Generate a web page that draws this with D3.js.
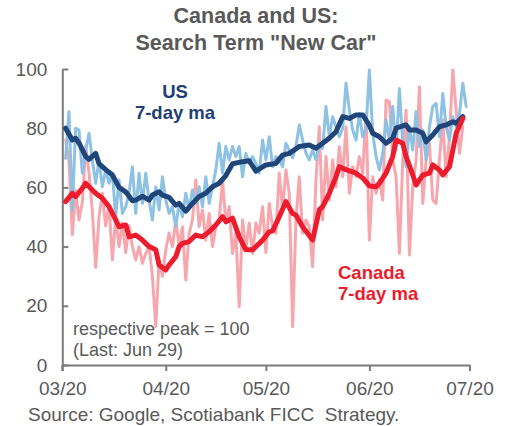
<!DOCTYPE html>
<html><head><meta charset="utf-8">
<script src="https://cdn.jsdelivr.net/npm/d3@7"></script>
<style>
body{margin:0;background:#fff}
svg{display:block}
text{font-family:"Liberation Sans",Arial,sans-serif}
</style>
</head><body>
<svg id="c" width="512" height="426"></svg>
<script>
// ---------- data ----------
const titleLines = ["Canada and US:", 'Search Term "New Car"'];
const dailyStart = "2020-03-02";
const usDaily = [69.8,85.6,52.4,80,79.4,64.8,72.6,78.3,69.3,61.4,69.3,60.2,65.9,61.4,64.8,50.1,62.5,51.2,53.5,58,
 67,51.2,64.8,54.6,64.8,55.7,49,60.2,52.4,63.6,55.7,51.2,53.5,46.7,54.6,50.1,58,52.4,59.1,54.6,
 60.2,53.5,63.6,54.6,60.2,66,74.9,64.8,73.8,69.3,73.8,70.4,73.8,63.6,71.5,68.1,70.4,68.1,64.8,76,
 69.3,77.1,67,70.4,69.3,67,74.9,72.6,70,73.8,81.1,76,71.6,69.3,72.6,69.3,74.9,73.2,87.3,77.1,
 83.9,80.5,77.1,80,95.2,86.1,79.4,76,85,77.1,80,99.7,78.3,70.4,65.9,71.5,82.8,76,87.3,72.6,
 93.4,74.9,67,80.5,72.6,85.6,73.8,79.4,69.3,80.5,87.3,88.4,77.1,91.7,80.5,76,83.9,80.5,85,95.2,87.3];
const caDaily = [76,69,44,59,49,55,74,65,52,33,50,58,47,54,35.5,50,40,48,38,47,
 40,35.5,40,34.4,37.7,40,30,13,35.5,30,39,44.6,40,49,40,46.7,28.7,44.5,49,62.5,
 46.7,52.4,42.2,51.2,40,46.7,49,62.5,48,53.5,37.7,44.5,19.7,49,38.9,48,37.7,48,44.5,53.5,
 38,54.6,46.7,44.5,64.8,52.4,65.9,58,12.9,49,63.6,44.5,49,46.7,33.2,62.5,80.5,49,70.4,55.7,
 69.3,60.2,73.8,63.6,80.5,58,67,63.6,70.4,64.8,85,42.2,63.6,58,62.5,55.7,89.5,89,69.3,63.6,
 37.7,69.3,86.1,37.2,60.2,69.3,94,54.6,69.3,74.9,55.7,54.6,69.3,82.8,63.6,77.1,99.7,86.1,71.5,80.5];
const usMaDates = ["03-02","03-04","03-05","03-06","03-08","03-09","03-11","03-12","03-14","03-16","03-18","03-20",
 "03-22","03-23","03-25","03-27","03-28","03-30","03-31","04-02","04-04","04-05","04-07","04-09","04-11","04-13",
 "04-15","04-17","04-19","04-21","04-24","04-26","04-28","05-01","05-04","05-06","05-08","05-11","05-14","05-16",
 "05-18","05-20","05-22","05-24","05-26","05-28","05-30","06-01","06-02","06-04","06-06","06-08","06-09","06-12",
 "06-13","06-15","06-17","06-18","06-20","06-22","06-24","06-26","06-27","06-29"];
const usMa = [80,76,76.6,75,70.5,69.5,71.5,68,66,64.2,60,58.5,
 55.5,55.7,57,55.7,57.4,58.5,57.4,56.6,54,54.6,52,54.6,56.9,58,
 60.2,61.4,64,68,68.7,69,65.5,67.6,68.1,70.9,71.5,73.8,74.3,73.2,
 74.9,76.6,78.8,83.9,83.3,84.5,84.5,81,78.3,77.1,74.9,76.6,80,81.1,
 79.4,79.4,78.3,75.4,77.7,80.5,81.1,82.2,81.7,83.9];
const caMaDates = ["03-02","03-04","03-05","03-07","03-08","03-10","03-11","03-13","03-15","03-17","03-18","03-20",
 "03-21","03-23","03-25","03-27","03-29","03-30","04-01","04-02","04-04","04-05","04-06","04-08","04-10","04-12",
 "04-14","04-16","04-18","04-19","04-21","04-23","04-25","04-27","04-30","05-02","05-03","05-05","05-07","05-09",
 "05-10","05-12","05-15","05-17","05-18","05-20","05-22","05-23","05-25","05-28","05-30","06-01","06-03","06-04",
 "06-06","06-08","06-09","06-11","06-12","06-14","06-15","06-17","06-19","06-20","06-22","06-23","06-25","06-26",
 "06-27","06-29"];
const caMa = [55.2,58,56.9,59.7,61.4,59.1,58,56.3,53.5,49,46.7,47.3,
 43.3,43.9,42.2,40,38.9,33.8,32.1,33.8,36.6,40,41.1,41.7,43.9,43.3,
 45,47.3,50.1,48.4,49.6,43.3,38.9,38.9,42.2,45,45.3,50.1,55.2,51.2,
 50.7,46.7,42.2,52.4,53.5,58,63.6,67,66,64.8,63.2,60.5,60.2,61.4,
 64.8,70.4,76,74.9,70.4,64.2,60.8,64.2,64.8,67.6,65.9,64.2,67,72.6,
 78.3,83.3];
const xTickDates = ["2020-03-01","2020-04-01","2020-05-01","2020-06-01","2020-07-01"];
const yTicks = [0,20,40,60,80,100];
const usLabel = ["US","7-day ma"];
const caLabel = ["Canada","7-day ma"];
const noteLines = ["respective peak = 100","(Last: Jun 29)"];
const sourceText = "Source: Google, Scotiabank FICC  Strategy.";

// ---------- build ----------
const parse = d3.timeParse("%Y-%m-%d");
const start = parse(dailyStart);
const usD = usDaily.map((v,i)=>({d:d3.timeDay.offset(start,i),v}));
const caD = caDaily.map((v,i)=>({d:d3.timeDay.offset(start,i),v}));
const usM = usMaDates.map((s,i)=>({d:parse("2020-"+s),v:usMa[i]}));
const caM = caMaDates.map((s,i)=>({d:parse("2020-"+s),v:caMa[i]}));

const svg = d3.select("#c");
svg.append("rect").attr("width",512).attr("height",426).attr("fill","#fff");

const x = d3.scaleTime().domain([parse("2020-03-01"),parse("2020-07-01")]).range([62.3,469.5]);
const y = d3.scaleLinear().domain([0,100]).range([365,69]);

const grey = "#595959", axisCol = "#7b7b7b";

// title
svg.append("g").selectAll("text").data(titleLines).join("text")
  .attr("x",256).attr("y",(d,i)=>23+i*27).attr("text-anchor","middle")
  .attr("font-size","21.5px").attr("font-weight","bold").attr("fill",grey).text(d=>d);

// axes
const yAxis = d3.axisLeft(y).tickValues(yTicks).tickSize(-6).tickSizeOuter(0).tickPadding(15);
const gy = svg.append("g").attr("transform","translate(62.3,0)").call(yAxis);
const xAxis = d3.axisBottom(x).tickValues(xTickDates.map(parse)).tickFormat(d3.timeFormat("%m/%y"))
  .tickSize(6).tickSizeOuter(0).tickPadding(11);
const gx = svg.append("g").attr("transform","translate(0,365)").call(xAxis);
[gx,gy].forEach(g=>{
  g.select(".domain").attr("stroke",axisCol).attr("stroke-width",2);
  g.selectAll(".tick line").attr("stroke",axisCol).attr("stroke-width",2);
  g.selectAll(".tick text").attr("fill",grey).attr("font-size","19px")
   .attr("font-family",'"Liberation Sans",Arial,sans-serif');
});
// extend y axis line below x axis
svg.append("line").attr("x1",62.3).attr("x2",62.3).attr("y1",y(0)).attr("y2",y(0)+6)
  .attr("stroke",axisCol).attr("stroke-width",2);

// lines
const line = d3.line().x(d=>x(d.d)).y(d=>y(d.v));
const plot = svg.append("g").attr("fill","none").attr("stroke-linejoin","round").attr("stroke-linecap","round");
plot.append("path").datum(caD).attr("d",line).attr("stroke","#F7A6AE").attr("stroke-width",3);
plot.append("path").datum(usD).attr("d",line).attr("stroke","#8DC2E4").attr("stroke-width",3);
plot.append("path").datum(usM).attr("d",line).attr("stroke","#1F4579").attr("stroke-width",5);
plot.append("path").datum(caM).attr("d",line).attr("stroke","#EC1C2D").attr("stroke-width",5);

// labels
svg.append("g").selectAll("text").data(usLabel).join("text")
  .attr("x",175).attr("y",(d,i)=>98+i*21).attr("text-anchor","middle")
  .attr("font-size","18.5px").attr("font-weight","bold").attr("fill","#1F3F74").text(d=>d);
svg.append("g").selectAll("text").data(caLabel).join("text")
  .attr("x",338).attr("y",(d,i)=>279+i*20.5)
  .attr("font-size","18.5px").attr("font-weight","bold").attr("fill","#EC1C2D").text(d=>d);
svg.append("g").selectAll("text").data(noteLines).join("text")
  .attr("x",73).attr("y",(d,i)=>335+i*21)
  .attr("font-size","18px").attr("fill",grey).text(d=>d);
svg.append("text").attr("x",28).attr("y",421).attr("font-size","19px").attr("fill",grey)
  .attr("xml:space","preserve").style("white-space","pre").text(sourceText);
</script>
</body></html>
